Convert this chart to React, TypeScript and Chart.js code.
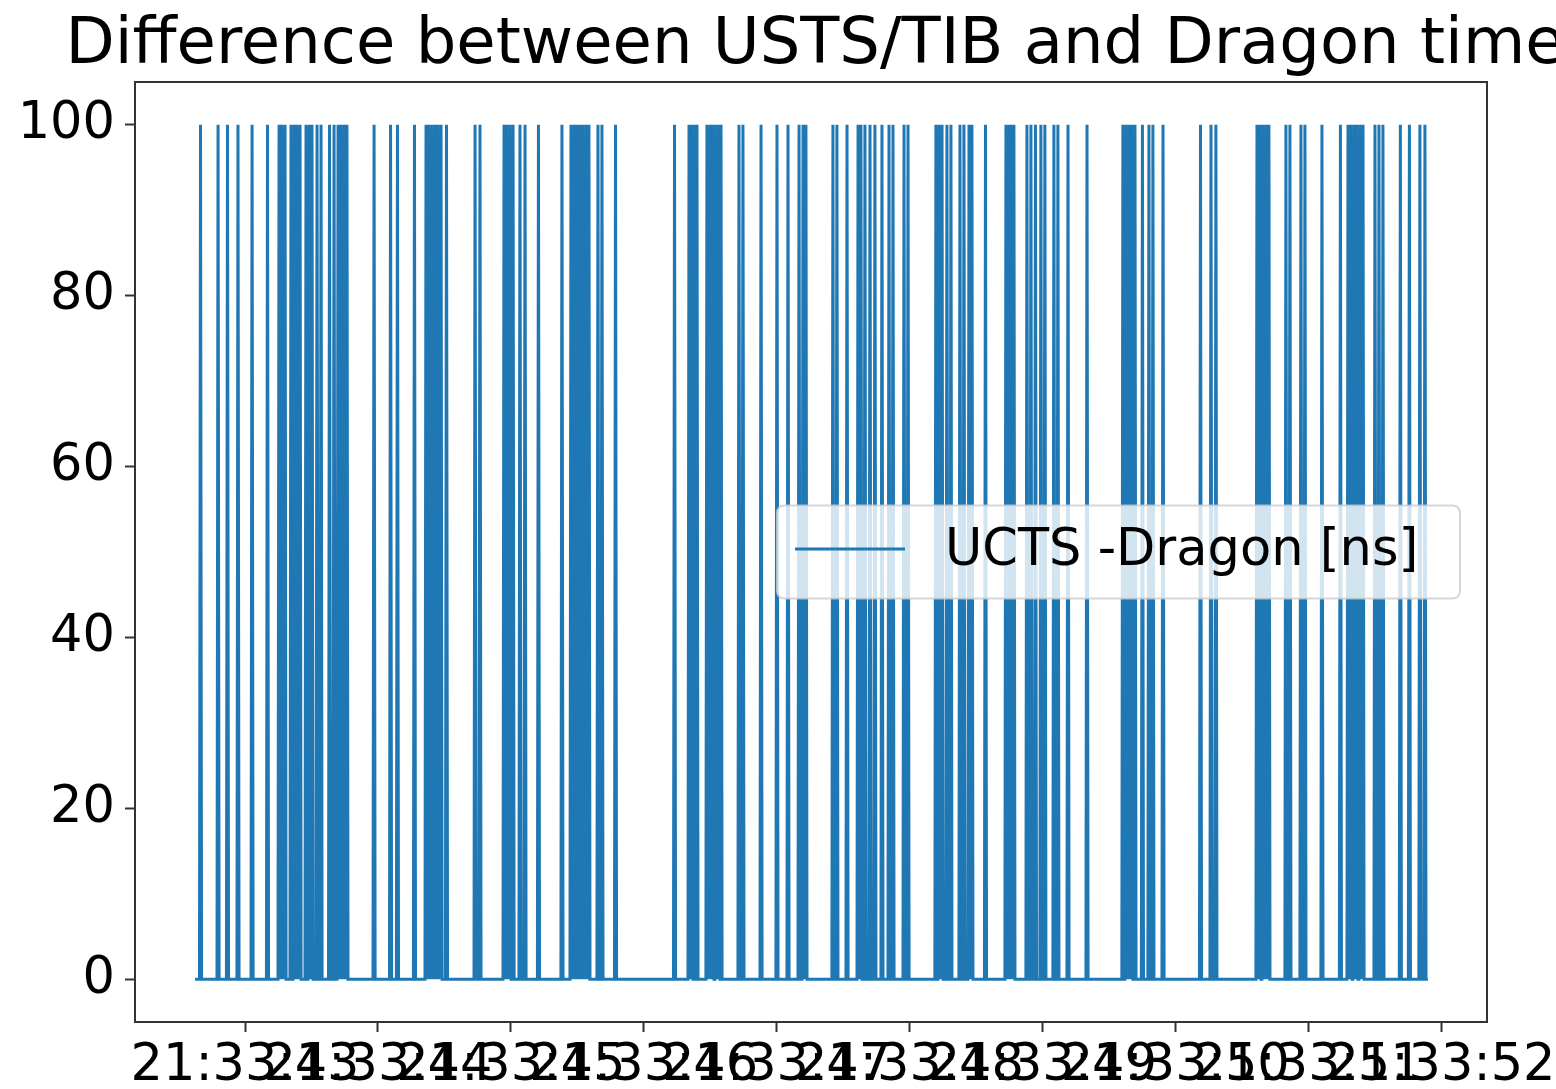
import React, { useEffect, useRef } from "react";
import { Chart, registerables } from "chart.js";

Chart.register(...registerables);

const TITLE = "Difference between USTS/TIB and Dragon time";
const LEGEND_LABEL = "UCTS -Dragon [ns]";
const TIME_PREFIX = "21:33:";
const xTicks = [43, 44, 45, 46, 47, 48, 49, 50, 51, 52];
const yTicks = [0, 20, 40, 60, 80, 100];
const xMin = 42.172;
const xMax = 52.346;
const yMin = -5;
const yMax = 105;
const startTime = 42.624;
const endTime = 51.901;
const baseValue = 0;
const spikePeak = 100;
// seconds after 21:33:00 where the UCTS - Dragon difference jumps to 100 ns
const spikeTimes = [
  42.665, 42.797, 42.868, 42.947, 43.053, 43.169,
  43.256, 43.278, 43.301, 43.346, 43.369, 43.391, 43.414,
  43.459, 43.482, 43.504, 43.542, 43.572, 43.636,
  43.67, 43.7, 43.722, 43.745, 43.767,
  43.971, 44.095, 44.147, 44.275,
  44.362, 44.384, 44.407, 44.43, 44.452, 44.475, 44.516,
  44.731, 44.768,
  44.949, 44.971, 44.994, 45.017, 45.069, 45.107, 45.208,
  45.385, 45.453, 45.476, 45.498, 45.521, 45.543, 45.566, 45.588,
  45.656, 45.686, 45.788,
  46.232, 46.341, 46.363, 46.386, 46.401,
  46.476, 46.499, 46.521, 46.544, 46.567, 46.582,
  46.717, 46.747, 46.883, 47.003, 47.086, 47.169, 47.199, 47.221,
  47.424, 47.454, 47.53, 47.613, 47.635, 47.665, 47.703, 47.74, 47.793, 47.846, 47.876, 47.959, 47.989,
  48.199, 48.222, 48.245, 48.282, 48.312, 48.38, 48.41, 48.448, 48.47, 48.572,
  48.726, 48.749, 48.771, 48.786, 48.884, 48.914, 48.948, 48.989, 49.019,
  49.087, 49.117, 49.193, 49.336,
  49.606, 49.629, 49.652, 49.674, 49.697, 49.753, 49.802, 49.832, 49.908,
  50.19, 50.269, 50.306,
  50.615, 50.637, 50.66, 50.683, 50.705, 50.833, 50.863, 50.946, 50.976,
  51.104, 51.243, 51.3, 51.322, 51.345, 51.367, 51.39, 51.413,
  51.503, 51.533, 51.563, 51.694, 51.762, 51.841, 51.879,
];
const SAMPLE_HALF_WIDTH = 0.008;

const BLUE = "#1f77b4";
const FONT = '"DejaVu Sans", "Liberation Sans", sans-serif';

function buildPoints() {
  const pts: { x: number; y: number }[] = [{ x: startTime, y: baseValue }];
  for (const t of spikeTimes) {
    pts.push({ x: t - SAMPLE_HALF_WIDTH, y: baseValue });
    pts.push({ x: t, y: spikePeak });
    pts.push({ x: t + SAMPLE_HALF_WIDTH, y: baseValue });
  }
  pts.push({ x: endTime, y: baseValue });
  return pts;
}

const framePlugin = {
  id: "frameAndDecor",
  afterDatasetsDraw(chart: any) {
    const { ctx, chartArea } = chart;
    const { left, right, top, bottom } = chartArea;
    ctx.save();
    ctx.strokeStyle = "#333333";
    ctx.lineWidth = 2;
    ctx.strokeRect(left, top, right - left, bottom - top);
    ctx.restore();
  },
  afterDraw(chart: any) {
    const { ctx, chartArea } = chart;
    const { left, right, top, bottom } = chartArea;
    ctx.save();
    // title
    ctx.fillStyle = "#000";
    ctx.font = `64px ${FONT}`;
    ctx.textAlign = "center";
    ctx.textBaseline = "alphabetic";
    ctx.fillText(TITLE, (left + right) / 2 + 4, 63);

    // legend (center right)
    const boxW = 683;
    const boxH = 93;
    const bx = right - 27 - boxW;
    const by = (top + bottom) / 2 - boxH / 2;
    const r = 8;
    ctx.beginPath();
    ctx.moveTo(bx + r, by);
    ctx.lineTo(bx + boxW - r, by);
    ctx.quadraticCurveTo(bx + boxW, by, bx + boxW, by + r);
    ctx.lineTo(bx + boxW, by + boxH - r);
    ctx.quadraticCurveTo(bx + boxW, by + boxH, bx + boxW - r, by + boxH);
    ctx.lineTo(bx + r, by + boxH);
    ctx.quadraticCurveTo(bx, by + boxH, bx, by + boxH - r);
    ctx.lineTo(bx, by + r);
    ctx.quadraticCurveTo(bx, by, bx + r, by);
    ctx.closePath();
    ctx.fillStyle = "rgba(255,255,255,0.8)";
    ctx.fill();
    ctx.strokeStyle = "rgba(204,204,204,0.8)";
    ctx.lineWidth = 2;
    ctx.stroke();

    const cy = by + boxH / 2;
    ctx.beginPath();
    ctx.moveTo(bx + 18, cy - 3);
    ctx.lineTo(bx + 128, cy - 3);
    ctx.strokeStyle = BLUE;
    ctx.lineWidth = 3;
    ctx.stroke();

    ctx.fillStyle = "#000";
    ctx.font = `51px ${FONT}`;
    ctx.textAlign = "left";
    ctx.textBaseline = "middle";
    ctx.fillText(LEGEND_LABEL, bx + 168, cy);
    ctx.restore();
  },
};

export default function App() {
  const canvasRef = useRef<HTMLCanvasElement | null>(null);

  useEffect(() => {
    const canvas = canvasRef.current;
    if (!canvas) return;
    const chart = new Chart(canvas, {
      type: "line",
      data: {
        datasets: [
          {
            label: LEGEND_LABEL,
            data: buildPoints(),
            borderColor: BLUE,
            backgroundColor: BLUE,
            borderWidth: 3,
            pointRadius: 0,
            tension: 0,
            fill: false,
          },
        ],
      },
      options: {
        animation: false,
        responsive: false,
        maintainAspectRatio: false,
        layout: { padding: { left: 0, top: 82, right: 69, bottom: 0 } },
        plugins: {
          legend: { display: false },
          title: { display: false },
          tooltip: { enabled: false },
        },
        scales: {
          x: {
            type: "linear",
            min: xMin,
            max: xMax,
            afterBuildTicks: (scale: any) => {
              scale.ticks = xTicks.map((v) => ({ value: v }));
            },
            afterFit: (scale: any) => {
              scale.height = 67;
              scale.paddingLeft = 0;
              scale.paddingRight = 0;
            },
            ticks: {
              autoSkip: false,
              maxRotation: 0,
              minRotation: 0,
              padding: 4,
              color: "#000",
              font: { family: FONT, size: 51 },
              callback: (v: any) => TIME_PREFIX + String(v),
            },
            grid: {
              drawOnChartArea: false,
              drawTicks: true,
              tickLength: 10,
              tickWidth: 2,
              tickColor: "#333",
            },
            border: { display: false },
          },
          y: {
            type: "linear",
            min: yMin,
            max: yMax,
            afterBuildTicks: (scale: any) => {
              scale.ticks = yTicks.map((v) => ({ value: v }));
            },
            afterFit: (scale: any) => {
              scale.width = 135;
              scale.paddingTop = 0;
              scale.paddingBottom = 0;
            },
            ticks: {
              padding: 10,
              color: "#000",
              font: { family: FONT, size: 51 },
            },
            grid: {
              drawOnChartArea: false,
              drawTicks: true,
              tickLength: 10,
              tickWidth: 2,
              tickColor: "#333",
            },
            border: { display: false },
          },
        },
      },
      plugins: [framePlugin],
    });
    return () => chart.destroy();
  }, []);

  return (
    <div style={{ position: "absolute", left: 0, top: 0, width: 1556, height: 1089, background: "#fff" }}>
      <canvas ref={canvasRef} width={1556} height={1089} style={{ display: "block" }} />
    </div>
  );
}
